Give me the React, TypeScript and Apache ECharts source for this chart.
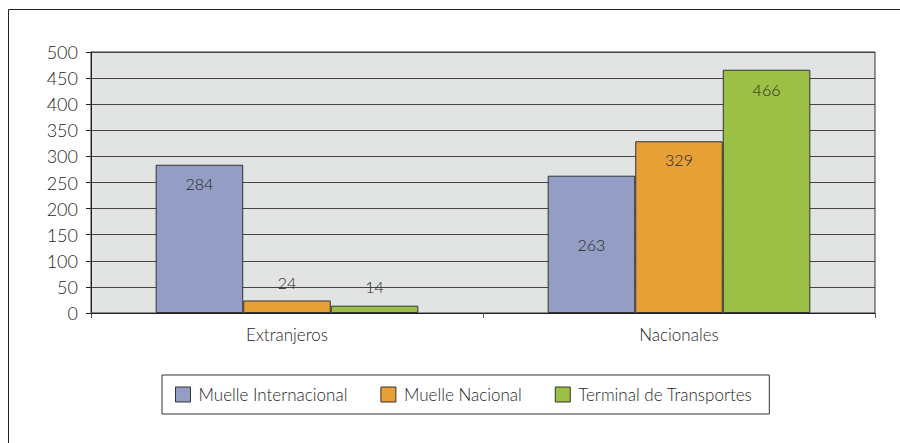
import React, { useEffect, useRef } from "react";
import * as echarts from "echarts";

const categories = ["Extranjeros", "Nacionales"];
const seriesNames = ["Muelle Internacional", "Muelle Nacional", "Terminal de Transportes"];
const muelleInternacional = [284, 263];
const muelleNacional = [24, 329];
const terminalTransportes = [14, 466];
const yTicks = { min: 0, max: 500, interval: 50 };

const colors = ["#949dc4", "#e6a036", "#9cc043"];
const FONT = "Lato";
const TEXT = "#262626";

export default function App() {
  const ref = useRef<HTMLDivElement>(null);
  useEffect(() => {
    if (!ref.current) return;
    const chart = echarts.init(ref.current, null, { renderer: "svg" });
    const labelBase = {
      show: true,
      color: TEXT,
      fontFamily: FONT,
      fontWeight: 300,
      fontSize: 16,
    };
    const mk = (vals: number[], positions: string[], dists: number[]) =>
      vals.map((v, i) => ({
        value: v,
        label: { ...labelBase, position: positions[i], distance: dists[i] },
      }));
    chart.setOption({
      animation: false,
      textStyle: { fontFamily: FONT },
      graphic: [
        { type: "line", shape: { x1: 8.5, y1: 9.5, x2: 900, y2: 9.5 }, style: { stroke: "#222", lineWidth: 1 } },
        { type: "line", shape: { x1: 8.5, y1: 9.5, x2: 8.5, y2: 443 }, style: { stroke: "#222", lineWidth: 1 } },
      ],
      grid: {
        left: 91,
        top: 52,
        right: 25,
        bottom: 130,
        show: true,
        backgroundColor: "#e2e3e3",
        borderColor: "#333",
        borderWidth: 1,
      },
      legend: {
        data: seriesNames,
        left: 162,
        top: 375,
        padding: [11, 17, 11, 13],
        itemGap: 33,
        itemWidth: 15,
        itemHeight: 15,
        borderColor: "#333",
        borderWidth: 1,
        icon: "rect",
        itemStyle: { borderColor: "#333", borderWidth: 1 },
        textStyle: { fontFamily: FONT, fontWeight: 300, fontSize: 17, color: TEXT, padding: [0, 0, 0, 3] },
      },
      xAxis: {
        type: "category",
        data: categories,
        axisLine: { show: true, lineStyle: { color: "#222", width: 1 } },
        axisTick: { show: true, length: 5, lineStyle: { color: "#555" } },
        axisLabel: { fontFamily: FONT, fontWeight: 300, fontSize: 17, color: TEXT, margin: 13 },
        splitLine: { show: false },
      },
      yAxis: {
        type: "value",
        min: yTicks.min,
        max: yTicks.max,
        interval: yTicks.interval,
        axisLine: { show: true, lineStyle: { color: "#222", width: 1 } },
        axisTick: { show: true, length: 5, lineStyle: { color: "#222" } },
        axisLabel: { fontFamily: FONT, fontWeight: 300, fontSize: 18, color: TEXT, margin: 13 },
        splitLine: { show: true, lineStyle: { color: "#444", width: 1 } },
      },
      series: [
        {
          name: seriesNames[0],
          type: "bar",
          barGap: "0%",
          barCategoryGap: "33%",
          itemStyle: { color: colors[0], borderColor: "#333", borderWidth: 1 },
          data: mk(muelleInternacional, ["insideTop", "inside"], [11, 5]),
        },
        {
          name: seriesNames[1],
          type: "bar",
          barGap: "0%",
          barCategoryGap: "33%",
          itemStyle: { color: colors[1], borderColor: "#333", borderWidth: 1 },
          data: mk(muelleNacional, ["top", "insideTop"], [10, 10]),
        },
        {
          name: seriesNames[2],
          type: "bar",
          barGap: "0%",
          barCategoryGap: "33%",
          itemStyle: { color: colors[2], borderColor: "#333", borderWidth: 1 },
          data: mk(terminalTransportes, ["top", "insideTop"], [11, 12]),
        },
      ],
    });
    return () => chart.dispose();
  }, []);
  return (
    <div
      ref={ref}
      style={{ position: "fixed", left: 0, top: 0, width: 900, height: 443, background: "#fff" }}
    />
  );
}
